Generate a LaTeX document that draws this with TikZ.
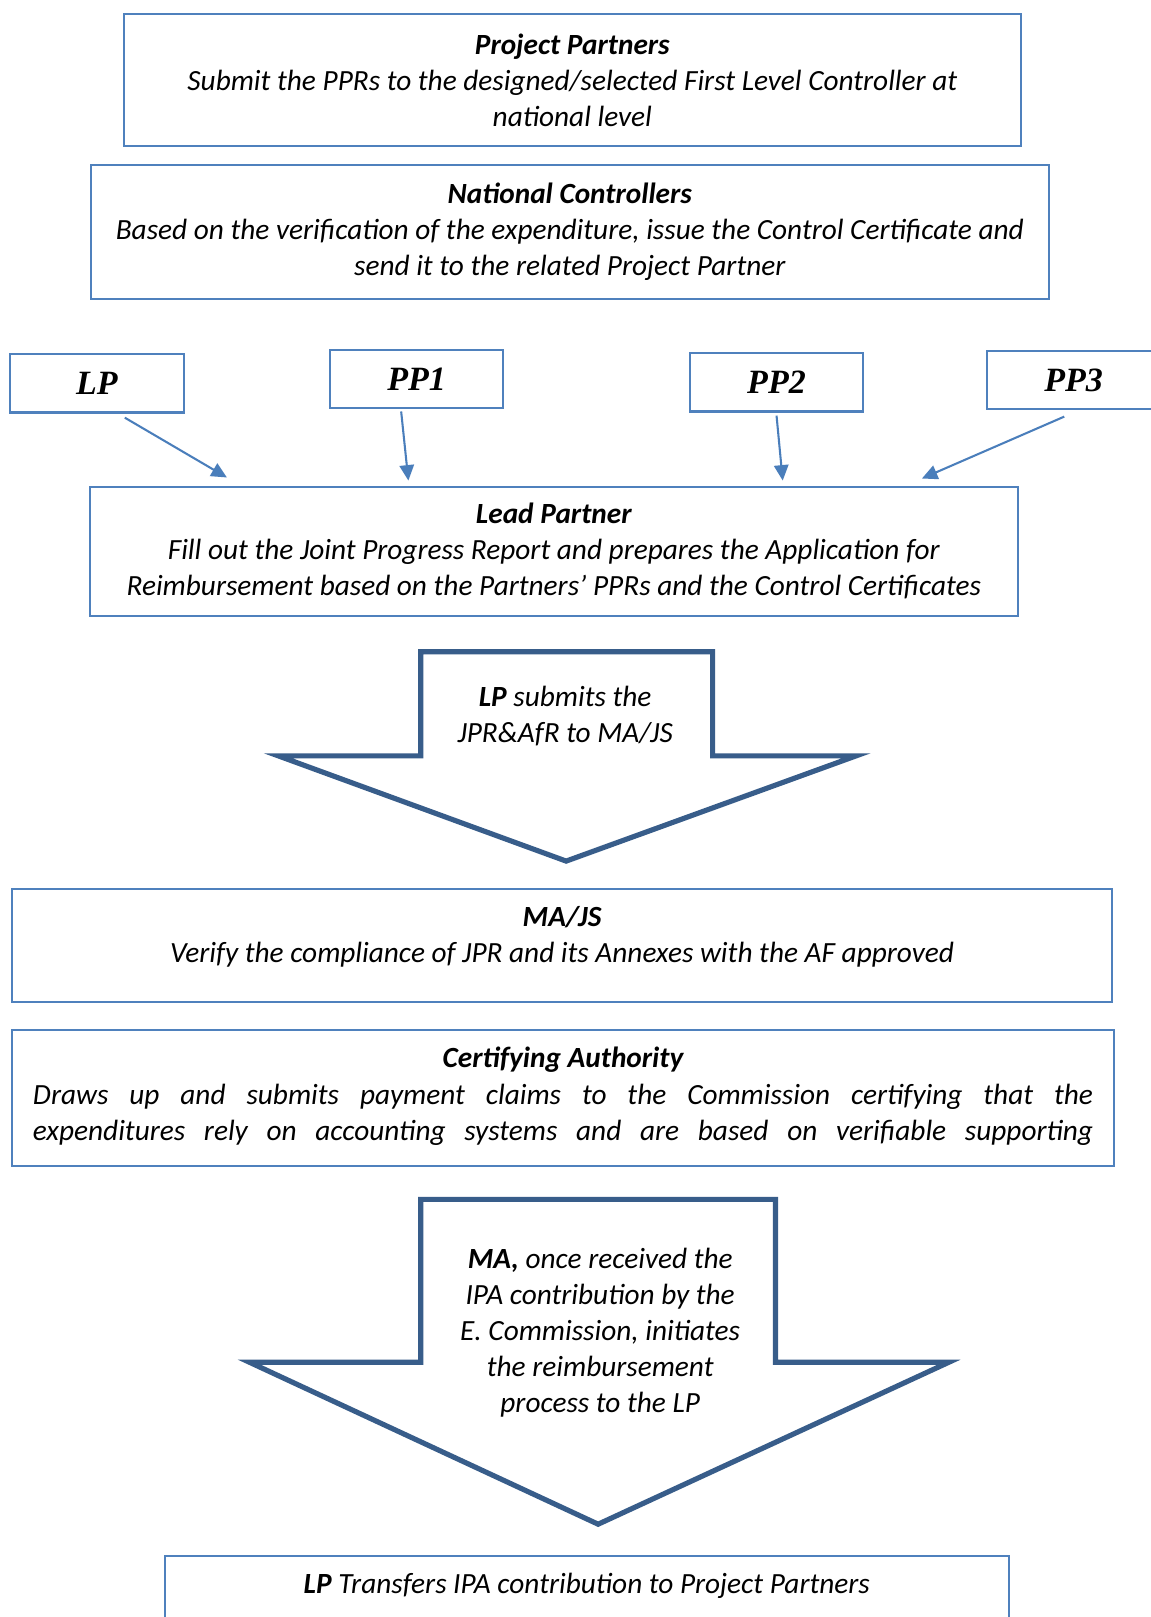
\documentclass[tikz,border=0pt]{standalone}
\usepackage{fontspec}
\setmainfont{Carlito}
\newfontfamily\ppfont{Liberation Serif}
\usetikzlibrary{arrows.meta,calc}
\definecolor{boxblue}{RGB}{79,129,189}
\definecolor{arrowblue}{RGB}{56,93,138}
\definecolor{linkblue}{RGB}{74,126,187}
\begin{document}
\begin{tikzpicture}[x=0.5pt,y=-0.5pt,
  box/.style={draw=boxblue, line width=1pt, inner sep=0pt, align=center, font=\fontsize{14.2}{17.5}\selectfont\itshape},
  ppbox/.style={draw=boxblue, line width=1pt, minimum width=84pt, minimum height=28.5pt, inner sep=0pt, font=\ppfont\fontsize{16.5}{18}\selectfont\bfseries\itshape},
  conn/.style={linkblue, line width=1pt, -{Triangle[length=7.5pt,width=7pt]}},
  blockarrow/.style={draw=arrowblue, line width=2.5pt, fill=white, line join=miter},
  txt/.style={align=center, inner sep=0pt, font=\fontsize{14.2}{17.5}\selectfont\itshape},
]
\fill[white] (0,0) rectangle (1116,1568);
\useasboundingbox (0,0) rectangle (1116,1568);
\clip (0,0) rectangle (1116,1568);

\node[box, minimum width=435pt, minimum height=64pt] (pp) at (555,78)
  {{\bfseries Project Partners}\\Submit the PPRs to the designed/selected First Level Controller at\\national level};
\node[box, minimum width=464.5pt, minimum height=65pt] (nc) at (552.5,225)
  {{\bfseries National Controllers}\\Based on the verification of the expenditure, issue the Control Certificate and\\send it to the related Project Partner};

\node[ppbox] (lp) at (94,371.5) {LP};
\node[ppbox] (pp1) at (404,367.5) {PP1};
\node[ppbox] (pp2) at (753,370.5) {PP2};
\node[ppbox] (pp3) at (1041,368.5) {PP3};

\node[box, minimum width=450pt, minimum height=62.5pt] (lead) at (537,534.5)
  {{\bfseries Lead Partner}\\Fill out the Joint Progress Report and prepares the Application for\\Reimbursement based on the Partners' PPRs and the Control Certificates};

\draw[conn] ($(lp.south)+(27,4)$) -- ($(lead.north west)+(134,-8)$);
\draw[conn] ($(pp1.south)+(-15,2)$) -- ($(lead.north west)+(310,-5)$);
\draw[conn] ($(pp2.south)+(0,3)$) -- ($(lead.north west)+(673,-5)$);
\draw[conn] ($(pp3.south)+(-9,6)$) -- ($(lead.north west)+(808,-7)$);

\draw[blockarrow] (408,632) -- (691,632) -- (691,733) -- (830,733) -- (549,835) -- (270,733) -- (408,733) -- cycle;
\node[txt] (a1t) at (548,694) {\textbf{LP} submits the\\JPR\&AfR to MA/JS};

\node[box, minimum width=533pt, minimum height=55pt] (ma) at (545,917) {};
\node[txt] (mat) at (545,908) {{\bfseries MA/JS}\\Verify the compliance of JPR and its Annexes with the AF approved};

\node[box, minimum width=534pt, minimum height=66pt] (ca) at (546,1065) {};
\node[txt] (cat) at (546,1063) {{\bfseries Certifying Authority}\\
  \makebox[514pt][s]{Draws up and submits payment claims to the Commission certifying that the}\\
  \makebox[514pt][s]{expenditures rely on accounting systems and are based on verifiable supporting}};

\draw[blockarrow] (408,1163) -- (752,1163) -- (752,1321) -- (920,1321) -- (580,1478) -- (242,1321) -- (408,1321) -- cycle;
\node[txt] (a2t) at (582,1292) {\textbf{MA,} once received the\\IPA contribution by the\\E. Commission, initiates\\the reimbursement\\process to the LP};

\node[box, minimum width=409pt, minimum height=45pt] (lpt) at (569,1554) {};
\node[txt] (lptt) at (569,1538) {\textbf{LP} Transfers IPA contribution to Project Partners};
\end{tikzpicture}
\end{document}
